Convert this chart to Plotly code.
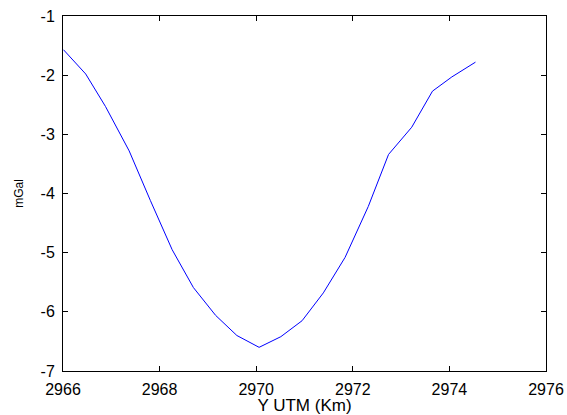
import plotly.graph_objects as go

# Data
y_utm_km = [2966.01, 2966.47, 2966.88, 2967.37, 2967.81, 2968.26, 2968.70, 2969.16,
            2969.60, 2970.06, 2970.51, 2970.95, 2971.39, 2971.84, 2972.32, 2972.74,
            2973.22, 2973.65, 2974.05, 2974.54]
gravity_mgal = [-1.57, -1.98, -2.53, -3.28, -4.12, -4.95, -5.59, -6.06,
                -6.40, -6.60, -6.42, -6.15, -5.68, -5.08, -4.22, -3.34,
                -2.88, -2.27, -2.03, -1.78]

x_ticks = [2966, 2968, 2970, 2972, 2974, 2976]
y_ticks = [-7, -6, -5, -4, -3, -2, -1]

font_family = "Liberation Sans, Arial, sans-serif"

fig = go.Figure()
fig.add_trace(go.Scatter(
    x=y_utm_km, y=gravity_mgal, mode="lines",
    line=dict(color="#0000ff", width=1), showlegend=False,
))

axis_common = dict(
    showline=True, linecolor="black", linewidth=1, mirror="ticks",
    ticks="inside", ticklen=5, tickcolor="black", tickwidth=1,
    showgrid=False, zeroline=False, automargin=False,
    tickfont=dict(family=font_family, size=16, color="black"),
)

fig.update_layout(
    width=567, height=415,
    margin=dict(l=63, r=21, t=16, b=44),
    paper_bgcolor="white", plot_bgcolor="white",
    font=dict(family=font_family, color="black"),
    xaxis=dict(range=[2966, 2976], tickvals=x_ticks,
               ticktext=[str(v) for v in x_ticks],
               title=dict(text="Y UTM (Km)", font=dict(size=17), standoff=0),
               ticklabelstandoff=4,
               **axis_common),
    yaxis=dict(range=[-7, -1], tickvals=y_ticks,
               ticktext=[str(v) for v in y_ticks],
               title=dict(text="mGal", font=dict(size=12), standoff=14),
               ticklabelstandoff=4,
               **axis_common),
)

fig.write_html("out.html")
